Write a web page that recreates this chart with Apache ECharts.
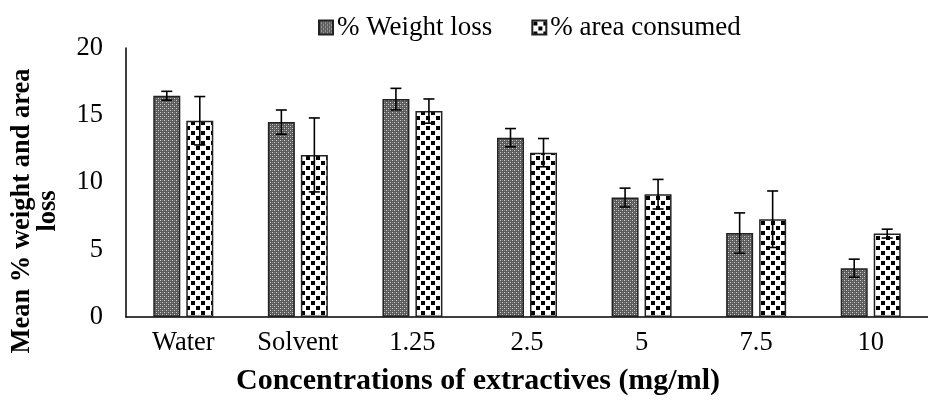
<!DOCTYPE html>
<html>
<head>
<meta charset="utf-8">
<style>html,body{margin:0;padding:0;background:#fff;}#c{width:928px;height:403px;}</style>
<script src="https://cdn.jsdelivr.net/npm/echarts@6/dist/echarts.min.js"></script>
</head>
<body>
<div id="c"></div>
<script>
const categories = ['Water', 'Solvent', '1.25', '2.5', '5', '7.5', '10'];
const weightLoss = [16.45, 14.49, 16.2, 13.33, 8.88, 6.24, 3.63];
const weightErr = [0.33, 0.9, 0.8, 0.68, 0.7, 1.5, 0.67];
const areaConsumed = [14.59, 12.05, 15.31, 12.22, 9.13, 7.27, 6.2];
const areaErr = [1.8, 2.75, 0.9, 1.05, 1.1, 2.1, 0.33];
const yTicks = [0, 5, 10, 15, 20];

const FONT = '"Liberation Serif", "Times New Roman", serif';
const BAR_W = 27, BAR_GAP = 6;

function makeWeightPattern() {
  const c = document.createElement('canvas'); c.width = 4; c.height = 4;
  const g = c.getContext('2d');
  g.fillStyle = '#5a5a5a'; g.fillRect(0, 0, 4, 4);
  g.fillStyle = '#d0d0d0'; g.fillRect(0, 0, 1, 1); g.fillRect(2, 2, 1, 1);
  g.fillStyle = '#888888'; g.fillRect(2, 0, 1, 1); g.fillRect(0, 2, 1, 1);
  return c;
}
function makeAreaPattern() {
  const c = document.createElement('canvas'); c.width = 10; c.height = 10;
  const g = c.getContext('2d');
  g.fillStyle = '#ffffff'; g.fillRect(0, 0, 10, 10);
  g.fillStyle = '#000000'; g.fillRect(1, 1, 4, 4); g.fillRect(6, 6, 4, 4);
  return c;
}
const weightFill = { image: makeWeightPattern(), repeat: 'repeat' };
const areaFill = { image: makeAreaPattern(), repeat: 'repeat' };

function errSeries(vals, errs, sign) {
  return {
    type: 'custom',
    z: 10,
    silent: true,
    data: vals.map((v, i) => [i, v, errs[i]]),
    renderItem: function (params, api) {
      const i = api.value(0), v = api.value(1), e = api.value(2);
      const off = sign * (BAR_W / 2 + BAR_GAP / 2);
      const top = api.coord([i, v + e]);
      const bot = api.coord([i, v - e]);
      const x = top[0] + off;
      const cap = 5.5;
      const st = { stroke: '#000', lineWidth: 1.6 };
      return {
        type: 'group',
        children: [
          { type: 'line', shape: { x1: x, y1: top[1], x2: x, y2: bot[1] }, style: st },
          { type: 'line', shape: { x1: x - cap, y1: top[1], x2: x + cap, y2: top[1] }, style: st },
          { type: 'line', shape: { x1: x - cap, y1: bot[1], x2: x + cap, y2: bot[1] }, style: st }
        ]
      };
    }
  };
}

const chart = echarts.init(document.getElementById('c'), null, { renderer: 'canvas' });
chart.setOption({
  animation: false,
  backgroundColor: '#fff',
  textStyle: { fontFamily: FONT },
  grid: { left: 126, right: -10, top: 48, bottom: 86, containLabel: false },
  legend: {
    top: 9, left: 313, icon: 'rect',
    itemWidth: 14, itemHeight: 14, itemGap: 39,
    textStyle: { fontFamily: FONT, fontSize: 27, color: '#000', padding: [0, 0, 0, -1] },
    data: ['% Weight loss', '% area consumed']
  },
  xAxis: {
    type: 'category', data: categories,
    axisLine: { lineStyle: { color: '#000', width: 1.5 } },
    axisTick: { show: false },
    axisLabel: { fontFamily: FONT, fontSize: 26.5, color: '#000', margin: 13 }
  },
  yAxis: {
    type: 'value', min: yTicks[0], max: yTicks[yTicks.length - 1], interval: 5,
    axisLine: { show: true, lineStyle: { color: '#000', width: 1.5 } },
    axisTick: { show: false },
    splitLine: { show: false },
    axisLabel: { fontFamily: FONT, fontSize: 26.5, color: '#000', margin: 23 }
  },
  graphic: [{
    type: 'text', x: 35, y: 211, rotation: Math.PI / 2,
    style: {
      text: 'Mean % weight and area\nloss', align: 'center', verticalAlign: 'middle',
      font: 'bold 26.5px ' + FONT, fill: '#000', lineHeight: 26
    }
  }, {
    type: 'text', x: 478, y: 381,
    style: {
      text: 'Concentrations of extractives (mg/ml)', align: 'center', verticalAlign: 'middle',
      font: 'bold 30px ' + FONT, fill: '#000'
    }
  }],
  series: [
    {
      name: '% Weight loss', type: 'bar', data: weightLoss,
      barWidth: BAR_W, barGap: (BAR_GAP / BAR_W * 100) + '%',
      itemStyle: { color: weightFill, borderColor: '#222', borderWidth: 1.5 }
    },
    {
      name: '% area consumed', type: 'bar', data: areaConsumed,
      barWidth: BAR_W,
      itemStyle: { color: areaFill, borderColor: '#222', borderWidth: 1.5 }
    },
    errSeries(weightLoss, weightErr, -1),
    errSeries(areaConsumed, areaErr, 1)
  ]
});
</script>
</body>
</html>
